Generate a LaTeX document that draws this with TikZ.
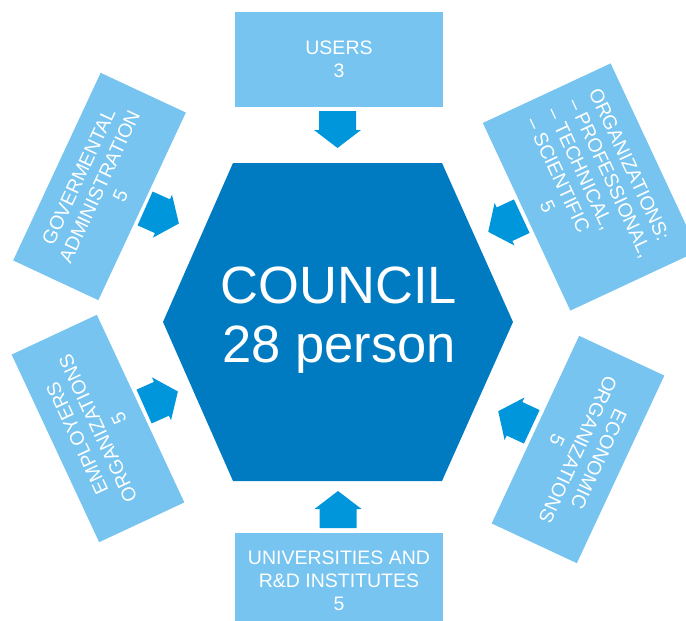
\documentclass[tikz,border=0pt]{standalone}
\usepackage{fontspec}
\setmainfont{Liberation Sans}
\definecolor{boxblue}{RGB}{118,196,239}
\definecolor{hexblue}{RGB}{0,123,193}
\definecolor{arrblue}{RGB}{0,150,220}
\begin{document}
\begin{tikzpicture}[x=1pt,y=-1pt,
  sbox/.style={fill=boxblue, draw=none, text=white, font=\fontsize{19.5}{23}\selectfont, align=center, inner sep=0pt},
  sidebox/.style={sbox, minimum width=207pt, minimum height=94pt},
  flatbox/.style={sbox, minimum width=208pt, minimum height=95pt},
  blockarrow/.pic={\fill[arrblue] (-18.5,-18.5) -- (0.5,-18.5) -- (0.5,-23.5) -- (18.5,0) -- (0.5,23.5) -- (0.5,18.5) -- (-18.5,18.5) -- cycle;}]
\clip (0,0) rectangle (686,621);
% outer boxes
\node[flatbox] (users) at (339,59.5) {USERS\\3};
\node[flatbox] (univ) at (339,580.5) {UNIVERSITIES AND\\R\&D INSTITUTES\\5};
\node[sidebox, rotate=65] (gov) at (99.5,186.5) {GOVERMENTAL\\ADMINISTRATION\\5};
\node[sbox, minimum width=207pt, minimum height=141pt, rotate=-65] (org) at (590.5,187)
  {\begin{tabular}[b]{@{}l@{}}ORGANIZATIONS:\\– PROFESSIONAL,\\– TECHNICAL,\\– SCIENTIFIC\end{tabular}\\5};
\node[sidebox, rotate=115] (emp) at (98,428.5) {EMPLOYERS\\ORGANIZATIONS\\5};
\node[sidebox, rotate=-115] (econ) at (578,449.5) {ECONOMIC\\ORGANIZATIONS\\5};
% central hexagon
\fill[hexblue] (233,163) -- (442,163) -- (513,322) -- (442,481) -- (233,481) -- (163,322) -- cycle;
\node[text=white, font=\fontsize{52.5}{59}\selectfont, align=center, inner sep=0pt] (council) at (339,320.5) {COUNCIL\\28 person};
% block arrows
\pic[rotate=-90] (a-users) at (337.5,129.5) {blockarrow};
\pic[rotate=90] (a-univ) at (338,509.5) {blockarrow};
\pic[rotate=-24] (a-gov) at (162,216) {blockarrow};
\pic[rotate=205] (a-org) at (505,224) {blockarrow};
\pic[rotate=24] (a-emp) at (161,399) {blockarrow};
\pic[rotate=155] (a-econ) at (515,419) {blockarrow};
\end{tikzpicture}
\end{document}
